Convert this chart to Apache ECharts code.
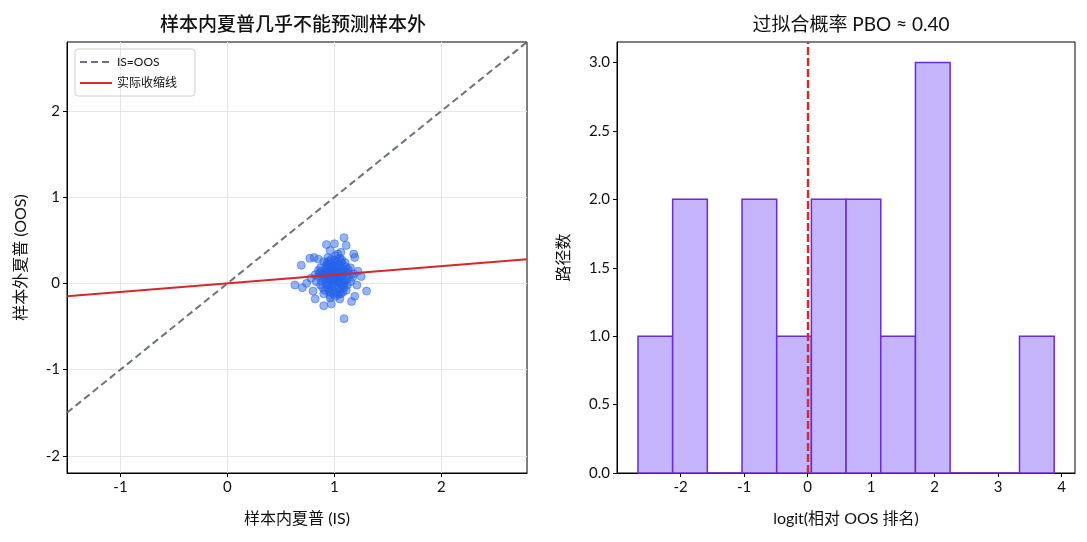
<!DOCTYPE html>
<html><head><meta charset="utf-8">
<script src="https://cdn.jsdelivr.net/npm/echarts@6/dist/echarts.min.js"></script>
<style>html,body{margin:0;padding:0;background:#fff}#c{width:1087px;height:542px}</style>
</head><body><div id="c"></div>
<script>
// ---- Left panel data ----
const isSharpe = [0.98,1.02,0.95,1.05,0.92,1.08,1.00,0.97,1.03,0.90,1.10,0.94,1.06,0.99,1.01,0.88,1.12,0.96,1.04,0.93,1.07,0.91,1.09,0.97,1.02,0.86,1.14,0.95,1.05,0.99,0.89,1.11,0.94,1.03,1.00,0.92,1.08,0.98,1.04,0.96,1.13,0.87,1.01,0.90,1.06,0.97,1.03,0.93,1.09,0.99,0.85,1.15,0.95,1.05,1.00,0.91,1.07,0.98,1.02,0.94,1.10,0.88,1.12,0.96,1.04,0.92,1.08,1.01,0.97,1.03,0.83,1.17,0.95,1.05,0.99,0.90,1.06,0.93,1.11,1.00,0.87,1.13,0.98,1.02,0.94,1.07,0.96,1.04,0.91,1.09,1.00,0.85,1.15,0.97,1.03,0.89,1.10,0.95,1.05,0.99,1.18,0.82,1.01,0.93,1.07,0.96,1.04,0.92,1.08,1.00,1.09,1.00,0.925,1.11,1.18,1.19,0.69,0.77,0.81,1.25,1.30,0.63,0.70,0.82,0.90,0.97,1.05,1.16,1.19,1.09,0.74,0.78,1.22,1.21,0.80,0.85,0.96,1.06];
const oosSharpe = [0.05,0.12,0.02,0.08,0.15,-0.03,0.20,-0.08,0.00,0.07,0.14,0.22,0.25,-0.12,0.10,0.03,0.05,0.18,-0.06,-0.02,0.17,0.11,0.01,0.28,-0.10,0.12,0.10,0.09,0.19,0.04,-0.05,-0.08,0.30,0.26,-0.04,0.00,0.21,0.14,0.03,-0.14,0.16,0.18,0.32,0.25,-0.12,0.11,0.07,0.06,0.12,0.23,0.08,0.02,-0.10,0.29,0.15,-0.08,0.05,-0.01,0.18,0.13,0.24,0.14,-0.02,0.04,0.13,0.20,0.09,-0.15,0.16,0.34,0.02,0.07,0.26,-0.09,0.08,-0.12,0.14,0.17,0.19,0.01,-0.02,0.13,0.21,0.04,-0.06,-0.01,0.09,0.22,0.04,-0.05,0.27,0.15,0.18,-0.04,0.15,0.10,0.03,0.12,0.01,0.17,0.11,0.10,0.07,0.24,0.27,-0.17,-0.13,0.09,-0.10,0.11,0.53,0.46,0.45,0.44,0.34,0.30,0.21,0.29,0.30,0.08,-0.09,-0.02,-0.05,-0.18,-0.26,-0.24,-0.18,-0.21,-0.15,-0.41,0.00,0.06,0.14,-0.02,-0.09,0.28,0.38,0.36];
const diagX = [-1.5, 2.8];
const diagY = [-1.5, 2.8];
const shrinkX = [-1.5, 2.8];
const shrinkY = [-0.15, 0.28];
// ---- Right panel data ----
const binEdges = [-2.67,-2.124,-1.578,-1.032,-0.486,0.06,0.606,1.152,1.698,2.244,2.79,3.336,3.882];
const binCounts = [1,2,0,2,1,2,2,1,3,0,0,1];
const pboLine = 0;

const FONT = "'Lato','Noto Sans CJK SC',sans-serif";
const TXT = '#111';

const scatterData = isSharpe.map((x,i)=>[x, oosSharpe[i]]);
const diagData = diagX.map((x,i)=>[x, diagY[i]]);
const shrinkData = shrinkX.map((x,i)=>[x, shrinkY[i]]);
const histData = binCounts.map((c,i)=>[binEdges[i], binEdges[i+1], c]);

const axisCommon = {
  axisLine:{show:true,onZero:false,lineStyle:{color:'#000',width:1}},
  axisTick:{show:true,length:4,lineStyle:{color:'#000'}},
  axisLabel:{color:TXT,fontSize:15,fontFamily:FONT,margin:7},
  nameTextStyle:{color:TXT,fontSize:16,fontFamily:FONT},
};

const chart = echarts.init(document.getElementById('c'), null, {renderer:'canvas'});
chart.setOption({
  animation:false,
  backgroundColor:'#fff',
  title:[
    {text:'样本内夏普几乎不能预测样本外', left:288, top:10, textAlign:'center',
     textStyle:{fontSize:19,fontWeight:500,color:TXT,fontFamily:FONT}},
    {text:'过拟合概率 PBO ≈ 0.40', left:846, top:10, textAlign:'center',
     textStyle:{fontSize:19,fontWeight:'normal',color:TXT,fontFamily:FONT}}
  ],
  legend:{
    left:75, top:49, orient:'vertical', itemGap:9, itemWidth:32, itemHeight:14,
    padding:[7,18,7,4], borderColor:'#d0d0d0', borderWidth:1, borderRadius:3,
    textStyle:{fontSize:12,color:TXT,fontFamily:FONT},
    itemStyle:{opacity:0},
    data:['IS=OOS','实际收缩线']
  },
  grid:[
    {left:67,top:42,width:460,height:431,show:true,borderColor:'#000',borderWidth:1,containLabel:false},
    {left:617,top:42,width:458,height:431,show:true,borderColor:'#000',borderWidth:1,containLabel:false}
  ],
  xAxis:[
    Object.assign({}, axisCommon, {gridIndex:0,type:'value',min:-1.5,max:2.8,
      name:'样本内夏普 (IS)',nameLocation:'middle',nameGap:38,
      axisLabel:Object.assign({},axisCommon.axisLabel,{customValues:[-1,0,1,2]}),
      axisTick:Object.assign({},axisCommon.axisTick,{customValues:[-1,0,1,2]}),
      splitLine:{show:true,lineStyle:{color:'#e6e6e6',width:1}}}),
    Object.assign({}, axisCommon, {gridIndex:1,type:'value',min:-3.0,max:4.21,
      name:'logit(相对 OOS 排名)',nameLocation:'middle',nameGap:38,
      axisLabel:Object.assign({},axisCommon.axisLabel,{customValues:[-2,-1,0,1,2,3,4]}),
      axisTick:Object.assign({},axisCommon.axisTick,{customValues:[-2,-1,0,1,2,3,4]}),
      splitLine:{show:false}})
  ],
  yAxis:[
    Object.assign({}, axisCommon, {gridIndex:0,type:'value',min:-2.2,max:2.8,
      name:'样本外夏普 (OOS)',nameLocation:'middle',nameGap:38,
      axisLabel:Object.assign({},axisCommon.axisLabel,{customValues:[-2,-1,0,1,2]}),
      axisTick:Object.assign({},axisCommon.axisTick,{customValues:[-2,-1,0,1,2]}),
      splitLine:{show:true,lineStyle:{color:'#e6e6e6',width:1}}}),
    Object.assign({}, axisCommon, {gridIndex:1,type:'value',min:0,max:3.15,
      name:'路径数',nameLocation:'middle',nameGap:45,
      axisLabel:Object.assign({},axisCommon.axisLabel,{customValues:[0,0.5,1,1.5,2,2.5,3],formatter:v=>v.toFixed(1)}),
      axisTick:Object.assign({},axisCommon.axisTick,{customValues:[0,0.5,1,1.5,2,2.5,3]}),
      splitLine:{show:false}})
  ],
  series:[
    {type:'scatter',xAxisIndex:0,yAxisIndex:0,data:scatterData,symbolSize:8,
     itemStyle:{color:'rgba(37,99,235,0.6)',borderColor:'rgba(37,99,235,0.65)',borderWidth:1},z:2},
    {name:'IS=OOS',type:'line',xAxisIndex:0,yAxisIndex:0,data:diagData,symbol:'none',
     lineStyle:{color:'#6b7280',width:2,type:[7,4]},itemStyle:{color:'#6b7280'},z:3},
    {name:'实际收缩线',type:'line',xAxisIndex:0,yAxisIndex:0,data:shrinkData,symbol:'none',
     lineStyle:{color:'#d62828',width:2},itemStyle:{color:'#d62828'},z:4},
    {type:'custom',xAxisIndex:1,yAxisIndex:1,data:histData,z:2,
     renderItem:function(params,api){
       const p0 = api.coord([api.value(0), api.value(2)]);
       const p1 = api.coord([api.value(1), 0]);
       return {type:'rect',shape:{x:p0[0],y:p0[1],width:p1[0]-p0[0],height:p1[1]-p0[1]},
         style:{fill:'#c4b5fd',stroke:'#6d28d9',lineWidth:1.5}};
     },
     markLine:{silent:true,symbol:'none',label:{show:false},
       lineStyle:{color:'#d62828',width:2.4,type:[8,3]},
       data:[{xAxis:pboLine}]}
    }
  ]
});
</script></body></html>
